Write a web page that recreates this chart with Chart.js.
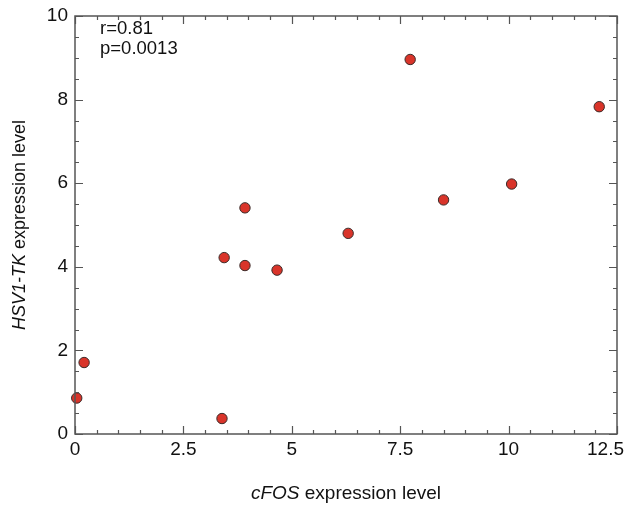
<!DOCTYPE html>
<html>
<head>
<meta charset="utf-8">
<script src="https://cdn.jsdelivr.net/npm/chart.js@4"></script>
<style>
  html, body { margin: 0; padding: 0; background: #fff; }
  #wrap { width: 625px; height: 505px; position: relative; }
</style>
</head>
<body>
<div id="wrap"><canvas id="scatterChart"></canvas></div>
<script>
// cFOS vs HSV1-TK expression, one point per sample
const cfosLevel = [0.04, 0.21, 3.39, 3.44, 3.92, 3.92, 4.66, 6.30, 7.73, 8.50, 10.07, 12.09];
const tkLevel   = [0.86, 1.71, 0.37, 4.22, 4.03, 5.41, 3.92, 4.80, 8.96, 5.60, 5.98, 7.83];

const xTicks = [0, 2.5, 5, 7.5, 10, 12.5];
const yTicks = [0, 2, 4, 6, 8, 10];
const statLines = ["r=0.81", "p=0.0013"];

const FONT = "'Liberation Sans', Arial, Helvetica, sans-serif";
const AXIS_COLOR = "#555";

// frame with inward ticks on all four sides, minor ticks every 0.5
const framePlugin = {
  id: "frame",
  afterDraw(chart) {
    const ctx = chart.ctx;
    const { left, right, top, bottom } = chart.chartArea;
    const xs = chart.scales.x;
    const ys = chart.scales.y;
    ctx.save();
    ctx.strokeStyle = AXIS_COLOR;
    ctx.lineWidth = 1.5;
    ctx.strokeRect(left, top, right - left, bottom - top);
    ctx.lineWidth = 1.2;
    ctx.beginPath();
    for (let v = xs.min; v <= xs.max + 1e-9; v += 0.5) {
      const px = Math.round(xs.getPixelForValue(v)) + 0.5;
      const len = xTicks.some(t => Math.abs(t - v) < 1e-6) ? 8 : 4;
      ctx.moveTo(px, bottom); ctx.lineTo(px, bottom - len);
      ctx.moveTo(px, top); ctx.lineTo(px, top + len);
    }
    for (let v = ys.min; v <= ys.max + 1e-9; v += 0.5) {
      const py = Math.round(ys.getPixelForValue(v)) + 0.5;
      const len = yTicks.some(t => Math.abs(t - v) < 1e-6) ? 8 : 4;
      ctx.moveTo(left, py); ctx.lineTo(left + len, py);
      ctx.moveTo(right, py); ctx.lineTo(right - len, py);
    }
    ctx.stroke();

    // x tick labels, kept inside the canvas at the right edge
    ctx.fillStyle = "#111";
    ctx.font = "19px " + FONT;
    ctx.textAlign = "left";
    ctx.textBaseline = "alphabetic";
    xTicks.forEach(v => {
      const txt = String(v);
      const w = ctx.measureText(txt).width;
      let x0 = xs.getPixelForValue(v) - w / 2;
      x0 = Math.min(x0, chart.width - w - 1);
      ctx.fillText(txt, x0, bottom + 21);
    });

    // r / p annotation
    ctx.font = "18.5px " + FONT;
    statLines.forEach((s, i) => ctx.fillText(s, left + 25, top + 18 + i * 20));

    // axis titles with italic gene names
    drawMixed(ctx, [["italic", "cFOS"], ["normal", " expression level"]],
      (left + right) / 2, 499, 0, 19);
    drawMixed(ctx, [["italic", "HSV1-TK"], ["normal", " expression level"]],
      25, (top + bottom) / 2, -Math.PI / 2, 18);
    ctx.restore();
  }
};

function drawMixed(ctx, parts, cx, cy, angle, size) {
  ctx.save();
  ctx.translate(cx, cy);
  ctx.rotate(angle);
  ctx.fillStyle = "#111";
  ctx.textBaseline = "alphabetic";
  ctx.textAlign = "left";
  let total = 0;
  const widths = parts.map(([style, txt]) => {
    ctx.font = style + " " + size + "px " + FONT;
    const w = ctx.measureText(txt).width;
    total += w;
    return w;
  });
  let x = -total / 2;
  parts.forEach(([style, txt], i) => {
    ctx.font = style + " " + size + "px " + FONT;
    ctx.fillText(txt, x, 0);
    x += widths[i];
  });
  ctx.restore();
}

new Chart(document.getElementById("scatterChart"), {
  type: "scatter",
  data: {
    datasets: [{
      data: cfosLevel.map((x, i) => ({ x, y: tkLevel[i] })),
      pointRadius: 5.2,
      pointHoverRadius: 5.2,
      backgroundColor: "#d9342a",
      borderColor: "#3a2a28",
      borderWidth: 1,
      clip: false
    }]
  },
  options: {
    responsive: true,
    maintainAspectRatio: false,
    animation: false,
    layout: { padding: { top: 16, right: 8, left: 0, bottom: 0 } },
    plugins: { legend: { display: false }, tooltip: { enabled: false } },
    scales: {
      x: {
        type: "linear",
        min: 0,
        max: 12.5,
        afterBuildTicks: s => { s.ticks = xTicks.map(v => ({ value: v })); },
        afterFit: s => { s.height = 71; s.paddingLeft = 0; s.paddingRight = 0; },
        grid: { display: false, drawTicks: false, tickLength: 0 },
        border: { display: false },
        ticks: { display: false }
      },
      y: {
        type: "linear",
        min: 0,
        max: 10,
        afterBuildTicks: s => { s.ticks = yTicks.map(v => ({ value: v })); },
        afterFit: s => { s.width = 75; s.paddingTop = 0; s.paddingBottom = 0; },
        grid: { display: false, drawTicks: false, tickLength: 0 },
        border: { display: false },
        ticks: {
          color: "#111",
          font: { family: FONT, size: 19 },
          padding: 7,
          callback: v => String(v)
        }
      }
    }
  },
  plugins: [framePlugin]
});
</script>
</body>
</html>
